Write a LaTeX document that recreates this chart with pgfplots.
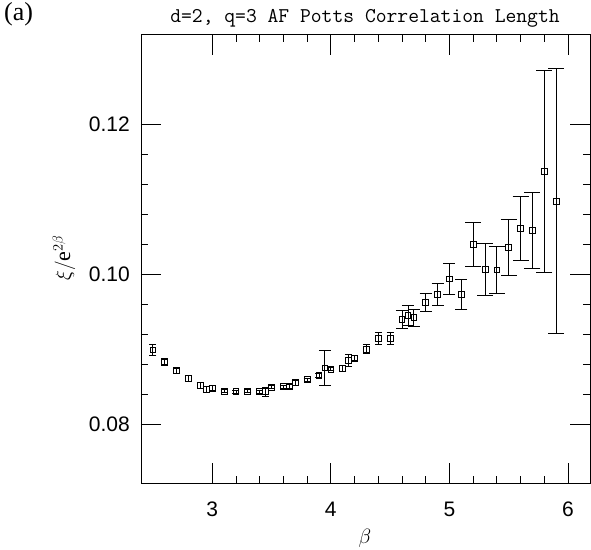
\documentclass[border=0pt]{standalone}
\usepackage{fontspec}
\setmainfont{Liberation Serif}
\newfontfamily\ticksf{Liberation Sans}
\usepackage{pgfplots}
\pgfplotsset{compat=1.18}

% beta, xi/e^{2beta}, error -- split by error size (cap width differs)
\pgfplotstableread{
b    v       e
2.50 0.0899  0.0007
2.60 0.0883  0.0005
2.70 0.0871  0.0004
2.80 0.0861  0.0004
2.90 0.0852  0.0004
2.95 0.0846  0.0004
3.00 0.0848  0.0003
3.10 0.0844  0.0002
3.20 0.0843  0.0002
3.30 0.0844  0.0002
3.40 0.0843  0.0002
3.45 0.0843  0.0006
3.50 0.0849  0.0002
3.60 0.0850  0.0002
3.65 0.0850  0.0003
3.70 0.0855  0.0003
3.80 0.0859  0.0002
3.90 0.0865  0.0003
4.00 0.0873  0.0002
4.10 0.0874  0.0004
4.15 0.0885  0.0008
4.20 0.0888  0.0003
4.30 0.0900  0.0006
4.40 0.0914  0.0008
4.50 0.0914  0.0008
}\smallerr

\pgfplotstableread{
b    v       e
3.95 0.0875  0.0023
4.60 0.0940  0.0012
4.65 0.0945  0.0013
4.70 0.0942  0.0011
4.80 0.0962  0.0012
4.90 0.0973  0.0015
5.00 0.0994  0.0021
5.10 0.0973  0.0020
}\miderr

\pgfplotstableread{
b    v       e
5.20 0.1040  0.0030
5.30 0.1007  0.0035
5.40 0.1006  0.0031
5.50 0.1036  0.0037
5.60 0.1061  0.0043
5.70 0.1059  0.0051
5.80 0.1138  0.0135
5.90 0.1098  0.0177
}\bigerr

\pgfplotsset{
    sqpts/.style={black, only marks, mark=square, mark size=2.9bp,
        mark options={line width=0.8pt, fill=none},
        error bars/.cd, y dir=both, y explicit,
        error bar style={black, line width=0.8pt},
        error mark options={black, rotate=90, mark size=#1, line width=0.8pt}},
}

\begin{document}
\begin{tikzpicture}
\path[use as bounding box] (-141bp,-67bp) rectangle (450bp,483bp);
\begin{axis}[
    at={(0,0)}, anchor=south west,
    scale only axis,
    width=449bp, height=448bp,
    xmin=2.4, xmax=6.185,
    ymin=0.0721, ymax=0.132,
    xtick={3,4,5,6},
    ytick={0.08,0.10,0.12},
    minor x tick num=4,
    minor y tick num=4,
    scaled y ticks=false,
    major tick length=20bp,
    minor tick length=7bp,
    tick style={black, line width=0.8pt},
    axis line style={black, line width=1pt},
    tick label style={font=\ticksf\fontsize{21bp}{25bp}\selectfont},
    /pgf/number format/assume math mode=true,
    yticklabel style={inner sep=0pt, xshift=-11bp,
        /pgf/number format/fixed,
        /pgf/number format/precision=2,
        /pgf/number format/fixed zerofill},
    xticklabel style={inner sep=0pt, yshift=-19bp},
]
\addplot[sqpts=3.5bp] table[x=b, y=v, y error=e] {\smallerr};
\addplot[sqpts=6bp] table[x=b, y=v, y error=e] {\miderr};
\addplot[sqpts=8bp] table[x=b, y=v, y error=e] {\bigerr};
\end{axis}
\node[anchor=base, font=\ttfamily\fontsize{21bp}{25bp}\selectfont, inner sep=0pt]
    at (224bp,460bp) {d=2, q=3 AF Potts Correlation Length};
\node[anchor=north west, inner sep=0pt, font=\fontsize{26bp}{30bp}\selectfont]
    at (-137bp,481bp) {(a)};
\node[rotate=90, font=\fontsize{22bp}{26bp}\selectfont]
    at (-77bp,225bp) {$\xi/\mathrm{e}^{2\beta}$};
\node[font=\fontsize{22bp}{26bp}\selectfont] at (224bp,-55bp) {$\beta$};
\end{tikzpicture}
\end{document}
